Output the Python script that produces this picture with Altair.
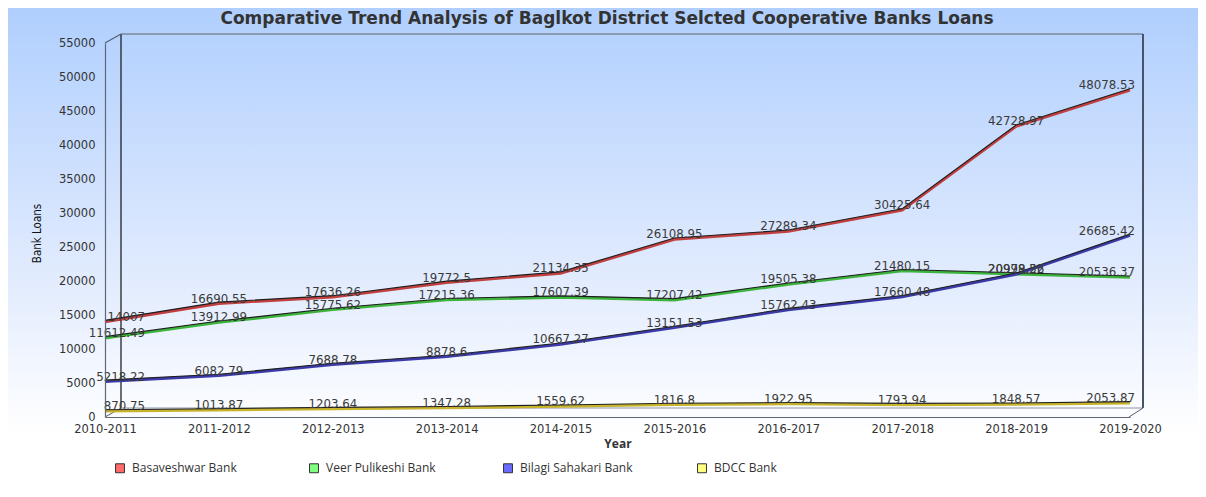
import altair as alt
import pandas as pd

title_text = "Comparative Trend Analysis of Baglkot District Selcted Cooperative Banks Loans"
years = ["2010-2011", "2011-2012", "2012-2013", "2013-2014", "2014-2015",
         "2015-2016", "2016-2017", "2017-2018", "2018-2019", "2019-2020"]
banks = ["Basaveshwar Bank", "Veer Pulikeshi Bank", "Bilagi Sahakari Bank", "BDCC Bank"]

basaveshwar = [14007, 16690.55, 17636.26, 19772.5, 21134.35, 26108.95, 27289.34, 30425.64, 42728.97, 48078.53]
veer_pulikeshi = [11612.49, 13912.99, 15775.62, 17215.36, 17607.39, 17207.42, 19505.38, 21480.15, 20998.56, 20536.37]
bilagi = [5218.22, 6082.79, 7688.78, 8878.6, 10667.27, 13151.53, 15762.43, 17660.48, 20979.22, 26685.42]
bdcc = [870.75, 1013.87, 1203.64, 1347.28, 1559.62, 1816.8, 1922.95, 1793.94, 1848.57, 2053.87]

line_colors = ["#c24040", "#3cb43c", "#3a3aa8", "#c8b42c"]
legend_colors = ["#ff6a6a", "#80ff80", "#6a6aff", "#ffff80"]

series = [basaveshwar, veer_pulikeshi, bilagi, bdcc]
rows = []
for b, vals in zip(banks, series):
    for i, (y, v) in enumerate(zip(years, vals)):
        lab = f"{v:.2f}".rstrip("0").rstrip(".")
        rows.append({"year": y, "bank": b, "value": v, "label": lab, "idx": i})
df = pd.DataFrame(rows)

W, H = 1025, 374
PL, PT = 97, 35

x_enc = alt.X("year:N", sort=years, scale=alt.Scale(type="point", padding=0),
              axis=alt.Axis(title="Year", labelAngle=0, labelPadding=6, titlePadding=4,
                            labelFont="DejaVu Sans", labelFontSize=11.5, labelColor="#333333",
                            titleFont="Open Sans", titleFontSize=12, titleFontWeight="bold",
                            titleColor="#333333", domainColor="#606878", domainWidth=1.2,
                            ticks=False, grid=False, zindex=2))
y_enc = alt.Y("value:Q", scale=alt.Scale(domain=[0, 55000], nice=False, zero=True),
              axis=alt.Axis(title="Bank Loans", values=list(range(0, 55001, 5000)), format="d",
                            labelPadding=10, labelFont="DejaVu Sans", labelFontSize=11.5,
                            labelColor="#333333",
                            titleFont="DejaVu Sans Condensed, Liberation Sans, sans-serif",
                            titleFontSize=11.5, titleFontWeight="normal", titleColor="#111111",
                            titleX=-68, titleY=190,
                            titleAlign="center", titleBaseline="middle", titleAngle=-90,
                            domainColor="#606878", domainWidth=1.2, ticks=False, grid=False,
                            zindex=2))

one = pd.DataFrame({"a": [0]})

bg = alt.Chart(one).mark_rect(
    color=alt.LinearGradient(gradient="linear",
                             stops=[alt.GradientStop(color="#b0cffe", offset=0),
                                    alt.GradientStop(color="#dfeafe", offset=0.6),
                                    alt.GradientStop(color="#ffffff", offset=1)],
                             x1=0, x2=0, y1=0, y2=1)
).encode(x=alt.value(-PL), x2=alt.value(W + 68), y=alt.value(-PT), y2=alt.value(392))

title_mark = alt.Chart(one).mark_text(
    font="DejaVu Sans", fontSize=17, fontWeight="bold", color="#333333",
    align="center", baseline="middle"
).encode(x=alt.value(502), y=alt.value(-24), text=alt.value(title_text))

def rule(x1, y1, x2, y2, color="#555e70", w=1.2):
    return alt.Chart(one).mark_rule(color=color, strokeWidth=w).encode(
        x=alt.value(x1), y=alt.value(y1), x2=alt.value(x2), y2=alt.value(y2))

frame = [
    rule(16, -9, 1038, -9, "#7a8898", 1.5),
    rule(16, -9, 16, 365, "#111111", 1.2),
    rule(1038, -9, 1038, 365, "#4a5268", 2),
    rule(16, 365, 1038, 365, "#8a96a4", 1),
    rule(0, 0, 16, -9, "#555e70", 1.2),
    rule(0, 374, 16, 365, "#555e70", 1),
    rule(1024, 374, 1038, 365, "#555e70", 1),
]

base = alt.Chart(df)
# stroke scale domain listed in reverse order so it is not merged with the fill legend
line_col = base.mark_line(strokeWidth=2.8).encode(
    x=x_enc, y=y_enc,
    stroke=alt.Stroke("bank:N", scale=alt.Scale(domain=banks[::-1], range=line_colors[::-1]),
                      legend=None),
    order=alt.Order("idx:Q"))
line_dark = base.mark_line(strokeWidth=1.1, color="#1e1e1e", yOffset=-1.4).encode(
    x=x_enc, y=y_enc, detail="bank:N", order=alt.Order("idx:Q"))

txt_props = dict(font="DejaVu Sans", fontSize=11.8, color="#3a3a3a", baseline="middle", dy=-5)
labels_first = base.transform_filter("datum.idx == 0").mark_text(align="right", dx=40, **txt_props).encode(
    x=x_enc, y=y_enc, text="label:N")
labels_mid = base.transform_filter("datum.idx > 0 && datum.idx < 9").mark_text(align="center", **txt_props).encode(
    x=x_enc, y=y_enc, text="label:N")
labels_last = base.transform_filter("datum.idx == 9").mark_text(align="right", dx=5, **txt_props).encode(
    x=x_enc, y=y_enc, text="label:N")

legend_layer = base.mark_point(shape="square", filled=True, size=0.5).encode(
    x=x_enc, y=y_enc,
    fill=alt.Fill("bank:N", scale=alt.Scale(domain=banks, range=legend_colors),
                  legend=alt.Legend(title=None, orient="none", legendX=9, legendY=419,
                                    direction="horizontal", columns=4, gridAlign="all",
                                    columnPadding=62, padding=0, symbolType="square",
                                    symbolSize=80, symbolStrokeColor="#333333",
                                    symbolStrokeWidth=1, symbolOpacity=1,
                                    labelFont="Open Sans", labelFontSize=12,
                                    labelColor="#333333", labelOffset=6, zindex=3)))

chart = alt.layer(bg, *frame, line_col, line_dark, labels_first, labels_mid, labels_last,
                  legend_layer, title_mark).properties(
    width=W, height=H,
    autosize=alt.AutoSizeParams(type="none"),
    padding={"left": PL, "top": PT, "right": 68, "bottom": 72},
).configure_view(strokeWidth=0).configure(background="white")

chart.save("out.html", embed_options={"renderer": "svg", "actions": False})
